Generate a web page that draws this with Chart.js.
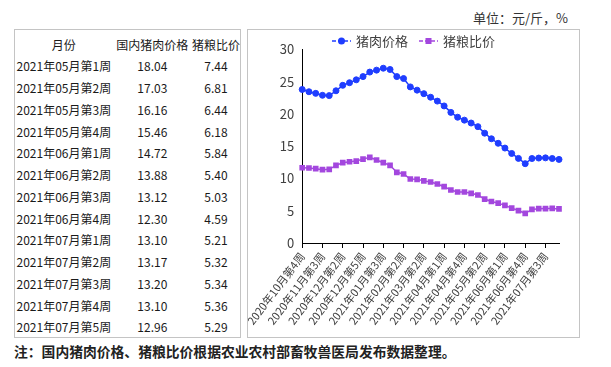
<!DOCTYPE html>
<html>
<head>
<meta charset="utf-8">
<script src="https://cdn.jsdelivr.net/npm/chart.js@4.4.0/dist/chart.umd.min.js"></script>
<style>
  html, body { margin:0; padding:0; background:#fff; }
  body { width:611px; height:367px; position:relative; overflow:hidden; font-family:"Noto Sans CJK SC","Noto Sans",sans-serif; }
  .unit { position:absolute; right:43px; top:8px; font-size:13px; color:#333; white-space:nowrap; }
  .panel { position:absolute; border:1px solid #c4c4c4; box-sizing:border-box; }
  #tablePanel { left:14px; top:29px; width:227px; height:309px; }
  #chartPanel { left:247px; top:29px; width:333px; height:309px; }
  table { position:absolute; left:0; top:3.6px; border-collapse:collapse; table-layout:fixed; font-size:12px; color:#1a1a1a; }
  td { height:21.75px; padding:0; text-align:center; white-space:nowrap; line-height:21.75px; }
  .note { position:absolute; left:14px; top:341px; font-size:13.8px; font-weight:bold; color:#222; white-space:nowrap; }
  canvas { position:absolute; left:0; top:0; }
</style>
</head>
<body>
<div class="unit">单位：元/斤，%</div>
<div class="panel" id="tablePanel">
  <table id="dataTable">
    <colgroup><col style="width:98px"><col style="width:80px"><col style="width:47px"></colgroup>
    <tbody></tbody>
  </table>
</div>
<div class="panel" id="chartPanel">
  <canvas id="chart" width="331" height="307"></canvas>
</div>
<div class="note">注：国内猪肉价格、猪粮比价根据农业农村部畜牧兽医局发布数据整理。</div>

<script>
// weekly categories
const weeks = [
  '2020年10月第4周', '2020年11月第1周', '2020年11月第2周', '2020年11月第3周', '2020年11月第4周',
  '2020年12月第1周', '2020年12月第2周', '2020年12月第3周', '2020年12月第4周', '2020年12月第5周',
  '2021年01月第1周', '2021年01月第2周', '2021年01月第3周', '2021年01月第4周',
  '2021年02月第1周', '2021年02月第2周', '2021年02月第3周',
  '2021年03月第1周', '2021年03月第2周', '2021年03月第3周', '2021年03月第4周',
  '2021年04月第1周', '2021年04月第2周', '2021年04月第3周', '2021年04月第4周', '2021年04月第5周',
  '2021年05月第1周', '2021年05月第2周', '2021年05月第3周', '2021年05月第4周',
  '2021年06月第1周', '2021年06月第2周', '2021年06月第3周', '2021年06月第4周',
  '2021年07月第1周', '2021年07月第2周', '2021年07月第3周', '2021年07月第4周', '2021年07月第5周'
];
const porkPrice = [
  23.8, 23.45, 23.2, 22.9, 22.85, 23.6, 24.45, 24.85, 25.3, 25.8,
  26.5, 26.8, 27.1, 26.9, 25.8, 25.5, 24.2, 23.7, 23.15, 22.6,
  22.0, 21.25, 20.25, 19.5, 19.05, 18.6, 18.04, 17.03, 16.16, 15.46,
  14.72, 13.88, 13.12, 12.30, 13.10, 13.17, 13.20, 13.10, 12.96
];
const hogGrainRatio = [
  11.67, 11.63, 11.52, 11.37, 11.42, 12.04, 12.45, 12.6, 12.7, 13.0,
  13.28, 12.87, 12.45, 12.04, 10.96, 10.7, 9.92, 9.87, 9.63, 9.46,
  9.15, 8.73, 8.22, 7.9, 7.9, 7.7, 7.44, 6.81, 6.44, 6.18,
  5.84, 5.40, 5.03, 4.59, 5.21, 5.32, 5.34, 5.36, 5.29
];
const tableHeader = ['月份', '国内猪肉价格', '猪粮比价'];
const tableStart = 26; // table lists the last 13 weeks
const yTicks = { min: 0, max: 30, step: 5 };

const family = "'Noto Sans CJK SC', 'Noto Sans', sans-serif";
const blue = '#1f3dff';
const purple = '#a347de';

// table
const tbody = document.querySelector('#dataTable tbody');
let html = '<tr>' + tableHeader.map(h => `<td>${h}</td>`).join('') + '</tr>';
for (let i = tableStart; i < weeks.length; i++) {
  html += `<tr><td>${weeks[i]}</td><td>${porkPrice[i].toFixed(2)}</td><td>${hogGrainRatio[i].toFixed(2)}</td></tr>`;
}
tbody.innerHTML = html;

// legend: short line with the marker on it, then the label
const lineLegend = {
  id: 'lineLegend',
  afterDraw(chart){
    const ctx = chart.ctx;
    ctx.save();
    ctx.font = '13px ' + family;
    const items = chart.data.datasets.map(ds => ({ds: ds, w: 24 + ctx.measureText(ds.label).width}));
    const gap = 11;
    const total = items.reduce((s, it) => s + it.w, 0) + gap * (items.length - 1);
    let x = chart.width / 2 - total / 2;
    const y = 11;
    items.forEach(it => {
      const ds = it.ds;
      ctx.strokeStyle = ds.borderColor;
      ctx.lineWidth = 1.5;
      ctx.setLineDash([4, 2]);
      ctx.beginPath();
      ctx.moveTo(x, y);
      ctx.lineTo(x + 19, y);
      ctx.stroke();
      ctx.setLineDash([]);
      ctx.fillStyle = ds.pointBackgroundColor;
      const cx = x + 9.5;
      if (ds.pointStyle === 'rect') {
        ctx.fillRect(cx - 3, y - 3, 6, 6);
      } else {
        ctx.beginPath();
        ctx.arc(cx, y, 3.5, 0, Math.PI * 2);
        ctx.fill();
      }
      ctx.fillStyle = '#404040';
      ctx.textBaseline = 'middle';
      ctx.textAlign = 'left';
      ctx.fillText(ds.label, x + 24, y);
      x += it.w + gap;
    });
    ctx.restore();
  }
};

new Chart(document.getElementById('chart').getContext('2d'), {
  type: 'line',
  data: {
    labels: weeks,
    datasets: [{
      label: '猪肉价格',
      data: porkPrice,
      borderColor: blue,
      backgroundColor: blue,
      pointBackgroundColor: blue,
      pointBorderColor: blue,
      borderWidth: 1.5,
      pointStyle: 'circle',
      pointRadius: 3,
      pointBorderWidth: 1,
      tension: 0
    }, {
      label: '猪粮比价',
      data: hogGrainRatio,
      borderColor: purple,
      backgroundColor: purple,
      pointBackgroundColor: purple,
      pointBorderColor: purple,
      borderWidth: 1.5,
      pointStyle: 'rect',
      pointRadius: 4,
      pointBorderWidth: 0,
      tension: 0
    }]
  },
  options: {
    responsive: false,
    animation: false,
    devicePixelRatio: 1,
    layout: { padding: { top: 19.5, right: 20, left: 0, bottom: 0 } },
    plugins: { legend: { display: false }, tooltip: { enabled: false } },
    scales: {
      x: {
        grid: {
          display: true,
          drawOnChartArea: false,
          tickLength: 5,
          tickWidth: 1,
          tickColor: c => c.index % 3 === 0 ? '#000' : 'rgba(0,0,0,0)'
        },
        border: { display: true, color: '#000', width: 1 },
        ticks: {
          autoSkip: false,
          minRotation: 53,
          maxRotation: 53,
          padding: 2,
          color: '#404040',
          font: { size: 11, family: family },
          callback: (v, i) => i % 3 === 0 ? weeks[i] : ''
        },
        afterFit: s => { s.height = 94; }
      },
      y: {
        min: yTicks.min,
        max: yTicks.max,
        grid: { display: true, drawOnChartArea: false, drawTicks: false },
        border: { display: true, color: '#000', width: 1 },
        ticks: {
          stepSize: yTicks.step,
          padding: 8,
          color: '#404040',
          font: { size: 13, family: family }
        },
        afterFit: s => { s.width = 54; }
      }
    }
  },
  plugins: [lineLegend]
});
</script>
</body>
</html>
